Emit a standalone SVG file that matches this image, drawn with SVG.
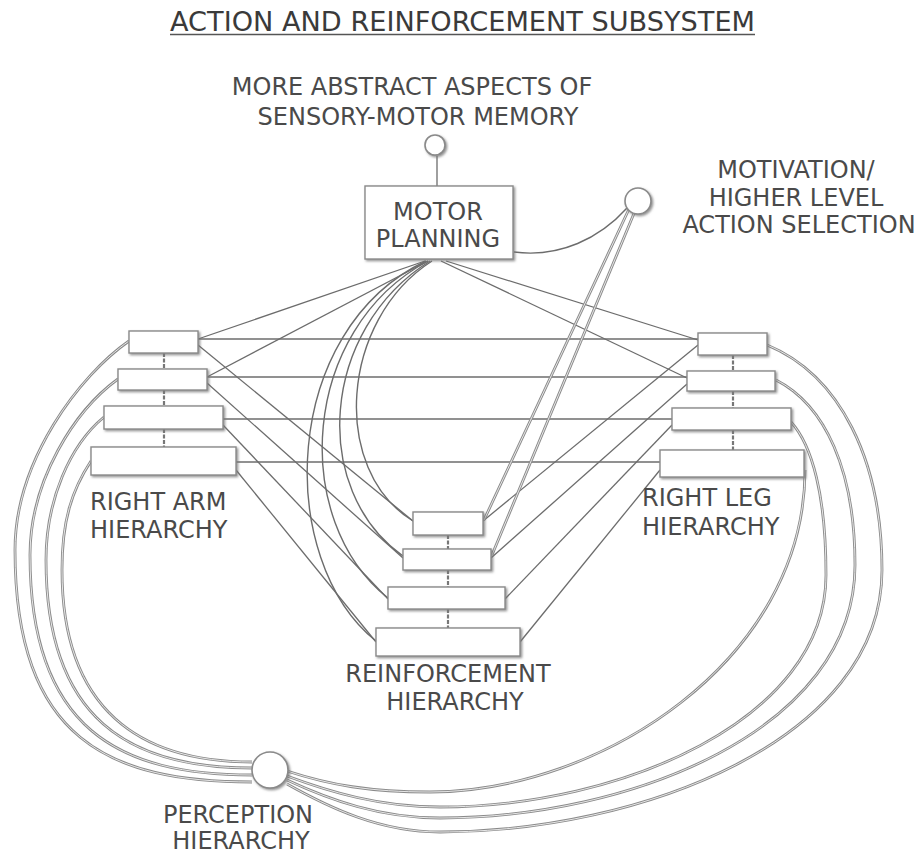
<svg xmlns="http://www.w3.org/2000/svg" xmlns:xlink="http://www.w3.org/1999/xlink" width="922" height="857" viewBox="0 0 922 857">
<style>
text{font-family:"DejaVu Sans","Liberation Sans",sans-serif;font-size:24px;fill:#4a4a4a}
.box{fill:#fff;stroke:#8a8a8a;stroke-width:1.4;filter:url(#sh)}
.ln{fill:none;stroke:#6c6c6c;stroke-width:1.3}
.cv{fill:none;stroke:#6c6c6c;stroke-width:1.4}
.dblo{fill:none;stroke:#8a8a8a;stroke-width:2.8}
.dbli{fill:none;stroke:#f2f2f2;stroke-width:0.9}
.vc{stroke:#777;stroke-width:2.2;stroke-dasharray:4 1.5}
.circ{fill:#fff;stroke:#8a8a8a;stroke-width:1.6;filter:url(#sh)}
</style>
<defs>
<filter id="sh" x="-20%" y="-20%" width="140%" height="140%">
<feDropShadow dx="1.5" dy="1.5" stdDeviation="0.8" flood-color="#777" flood-opacity="0.8"/>
</filter>
<path id="a1" d="M129,341 C80,375 15,460 15,550 C15,740 110,782 252,782"/>
<path id="a2" d="M118,379 C75,410 30,480 30,555 C30,730 120,775 252,775"/>
<path id="a3" d="M104,417 C70,445 46,500 46,560 C46,720 130,768 252,768"/>
<path id="a4" d="M91,461 C72,490 62,520 62,570 C62,710 140,762 252,762"/>
<path id="l1" d="M287,784 C330,808 380,832 440,832 C640,832 882,740 882,570 C882,460 840,375 767,345"/>
<path id="l2" d="M287,780 C330,800 380,818 440,818 C630,818 855,730 855,565 C855,470 825,405 776,380"/>
<path id="l3" d="M287,776 C330,792 380,807 440,807 C620,807 826,720 826,575 C826,495 812,445 791,422"/>
<path id="l4" d="M287,771 C330,785 370,792 430,792 C600,792 805,660 805,470"/>
<path id="m1" d="M629,209 L484,520"/>
<path id="m2" d="M635,211 L492,555"/>
</defs>

<g id="connectors">
<line class="ln" x1="437" y1="156" x2="437" y2="186"/>
<path class="cv" d="M514,252 C560,258 600,238 627,208"/>
<line class="ln" x1="425" y1="261" x2="198" y2="339"/>
<line class="ln" x1="428" y1="261" x2="207" y2="377"/>
<line class="ln" x1="446" y1="261" x2="698" y2="340"/>
<line class="ln" x1="441" y1="261" x2="687" y2="378"/>
<path class="cv" d="M432,261 C340,320 330,470 413,521"/>
<path class="cv" d="M430,261 C320,330 310,490 403,556"/>
<path class="cv" d="M428,261 C300,330 290,520 388,598"/>
<path class="cv" d="M426,261 C280,330 275,560 376,641"/>
<line class="ln" x1="198" y1="339" x2="698" y2="339"/>
<line class="ln" x1="207" y1="377" x2="687" y2="377"/>
<line class="ln" x1="223" y1="419" x2="672" y2="419"/>
<line class="ln" x1="236" y1="462" x2="660" y2="462"/>
<line class="ln" x1="198" y1="345" x2="413" y2="521"/>
<line class="ln" x1="207" y1="383" x2="403" y2="558"/>
<line class="ln" x1="223" y1="425" x2="388" y2="599"/>
<line class="ln" x1="236" y1="470" x2="376" y2="642"/>
<line class="ln" x1="698" y1="345" x2="483" y2="521"/>
<line class="ln" x1="687" y1="384" x2="491" y2="558"/>
<line class="ln" x1="672" y1="425" x2="505" y2="599"/>
<line class="ln" x1="660" y1="470" x2="520" y2="642"/>
<use href="#m1" xlink:href="#m1" class="dblo"/><use href="#m1" xlink:href="#m1" class="dbli"/>
<use href="#m2" xlink:href="#m2" class="dblo"/><use href="#m2" xlink:href="#m2" class="dbli"/>
<use href="#a1" xlink:href="#a1" class="dblo"/><use href="#a1" xlink:href="#a1" class="dbli"/>
<use href="#a2" xlink:href="#a2" class="dblo"/><use href="#a2" xlink:href="#a2" class="dbli"/>
<use href="#a3" xlink:href="#a3" class="dblo"/><use href="#a3" xlink:href="#a3" class="dbli"/>
<use href="#a4" xlink:href="#a4" class="dblo"/><use href="#a4" xlink:href="#a4" class="dbli"/>
<use href="#l1" xlink:href="#l1" class="dblo"/><use href="#l1" xlink:href="#l1" class="dbli"/>
<use href="#l2" xlink:href="#l2" class="dblo"/><use href="#l2" xlink:href="#l2" class="dbli"/>
<use href="#l3" xlink:href="#l3" class="dblo"/><use href="#l3" xlink:href="#l3" class="dbli"/>
<use href="#l4" xlink:href="#l4" class="dblo"/><use href="#l4" xlink:href="#l4" class="dbli"/>
<line class="vc" x1="164" y1="353" x2="164" y2="369"/>
<line class="vc" x1="164" y1="390" x2="164" y2="406"/>
<line class="vc" x1="164" y1="429" x2="164" y2="447"/>
<line class="vc" x1="733" y1="355" x2="733" y2="371"/>
<line class="vc" x1="733" y1="391" x2="733" y2="408"/>
<line class="vc" x1="733" y1="430" x2="733" y2="450"/>
<line class="vc" x1="448" y1="535" x2="448" y2="549"/>
<line class="vc" x1="448" y1="570" x2="448" y2="587"/>
<line class="vc" x1="448" y1="609" x2="448" y2="628"/>
</g>

<g id="title">
<text x="170" y="31" textLength="585" lengthAdjust="spacingAndGlyphs" style="font-size:26px;fill:#3a3a3a">ACTION AND REINFORCEMENT SUBSYSTEM</text>
<line x1="170" y1="34.5" x2="755" y2="34.5" stroke="#555" stroke-width="1.6"/>
</g>

<g id="abstract-memory">
<text x="412" y="95" text-anchor="middle">MORE ABSTRACT ASPECTS OF</text>
<text x="418" y="125" text-anchor="middle">SENSORY-MOTOR MEMORY</text>
<circle class="circ" cx="435" cy="145" r="10"/>
</g>

<g id="motor-planning">
<rect class="box" x="365" y="186" width="148" height="73"/>
<text x="438" y="220" text-anchor="middle">MOTOR</text>
<text x="438" y="247" text-anchor="middle">PLANNING</text>
</g>

<g id="motivation">
<circle class="circ" cx="638" cy="201" r="13"/>
<text x="796" y="178" text-anchor="middle">MOTIVATION/</text>
<text x="796" y="206" text-anchor="middle">HIGHER LEVEL</text>
<text x="799" y="233" text-anchor="middle">ACTION SELECTION</text>
</g>

<g id="right-arm-hierarchy">
<rect class="box" x="129" y="331" width="69" height="22"/>
<rect class="box" x="118" y="369" width="89" height="21"/>
<rect class="box" x="104" y="406" width="119" height="23"/>
<rect class="box" x="91" y="447" width="145" height="28"/>
<text x="90" y="510">RIGHT ARM</text>
<text x="90" y="538">HIERARCHY</text>
</g>

<g id="right-leg-hierarchy">
<rect class="box" x="698" y="333" width="69" height="22"/>
<rect class="box" x="687" y="371" width="88" height="20"/>
<rect class="box" x="672" y="408" width="119" height="22"/>
<rect class="box" x="660" y="450" width="144" height="27"/>
<text x="642" y="506">RIGHT LEG</text>
<text x="642" y="535">HIERARCHY</text>
</g>

<g id="reinforcement-hierarchy">
<rect class="box" x="413" y="512" width="70" height="23"/>
<rect class="box" x="403" y="549" width="88" height="21"/>
<rect class="box" x="388" y="587" width="117" height="22"/>
<rect class="box" x="376" y="628" width="144" height="28"/>
<text x="448" y="682" text-anchor="middle">REINFORCEMENT</text>
<text x="455" y="710" text-anchor="middle">HIERARCHY</text>
</g>

<g id="perception-hierarchy">
<circle class="circ" cx="270" cy="770" r="18"/>
<text x="238" y="823" text-anchor="middle">PERCEPTION</text>
<text x="241" y="849" text-anchor="middle">HIERARCHY</text>
</g>
</svg>
